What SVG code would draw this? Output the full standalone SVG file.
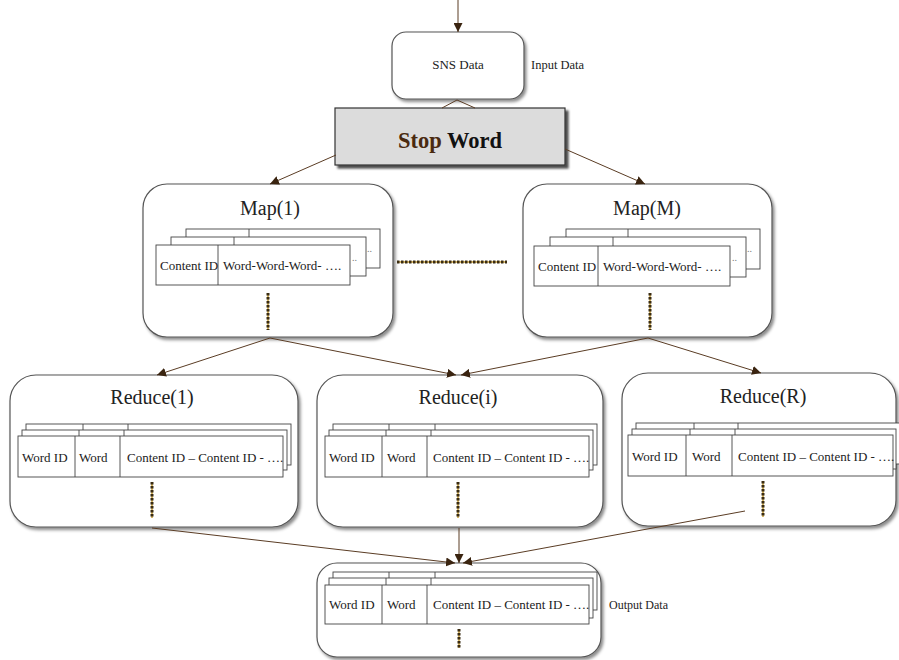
<svg xmlns="http://www.w3.org/2000/svg" width="899" height="660" viewBox="0 0 899 660">
<defs>
<filter id="sh" x="-10%" y="-10%" width="125%" height="125%">
<feDropShadow dx="2" dy="2.5" stdDeviation="1.6" flood-color="#000" flood-opacity="0.45"/>
</filter>
<filter id="sh2" x="-10%" y="-10%" width="125%" height="130%">
<feDropShadow dx="3" dy="3" stdDeviation="1" flood-color="#000" flood-opacity="0.7"/>
</filter>
<marker id="ah" viewBox="0 0 10 10" refX="10" refY="5" markerWidth="9" markerHeight="9" markerUnits="userSpaceOnUse" orient="auto">
<path d="M0,0 L10,5 L0,10 z" fill="#3a2410"/>
</marker>
</defs>
<style>
.box{fill:#fff;stroke:#555;stroke-width:1.2;filter:url(#sh)}
.rec{fill:#fff;stroke:#444;stroke-width:0.9}
.div{stroke:#444;stroke-width:0.9}
.t{font-family:"Liberation Serif","Times New Roman",serif;fill:#222}
.title{font-size:20px}
.small{font-size:13px}
.dots{font-size:10px;fill:#777}
.conn{stroke:#5a3c24;stroke-width:1;fill:none}
.dotline{stroke:#3a2c12;stroke-width:3;stroke-dasharray:2.5 1.5;fill:none}
.dotbg{stroke:#d8b868;stroke-width:2;fill:none}
</style>

<g id="sns">
<rect class="box" x="392" y="32" width="132" height="67" rx="14"/>
<text class="t" x="458" y="69" font-size="13" text-anchor="middle">SNS Data</text>
</g>
<g id="input-label">
<text class="t" x="531" y="69" font-size="12.5">Input Data</text>
</g>

<g id="stopword">
<rect x="335" y="108" width="230" height="57" fill="#dcdcdc" stroke="#333" stroke-width="1.2" filter="url(#sh2)"/>
<text class="t" x="450" y="148" font-size="22.5" font-weight="bold" text-anchor="middle"><tspan fill="#4a2a10">Stop</tspan> <tspan fill="#111">Word</tspan></text>
</g>

<g id="map1">
<rect class="box" x="143" y="184" width="250" height="153" rx="24"/>
<text class="t title" x="270" y="215" text-anchor="middle">Map(1)</text>
<rect class="rec" x="186" y="229" width="194" height="39"/>
<line class="div" x1="249" y1="229" x2="249" y2="268"/>
<text class="t dots" x="367" y="252">..</text>
<rect class="rec" x="171" y="237" width="195" height="39"/>
<line class="div" x1="234" y1="237" x2="234" y2="276"/>
<text class="t dots" x="352" y="261">..</text>
<rect class="rec" x="156" y="245" width="194" height="40"/>
<line class="div" x1="218" y1="245" x2="218" y2="285"/>
<text class="t small" x="160" y="270">Content ID</text>
<text class="t small" x="223" y="270">Word-Word-Word- ….</text>
<line class="dotbg" x1="268" y1="293" x2="268" y2="330"/>
<line class="dotline" x1="268" y1="293" x2="268" y2="330"/>
</g>

<g id="ellipsis-maps">
<line class="dotbg" x1="397" y1="262" x2="507" y2="262"/>
<line class="dotline" x1="397" y1="262" x2="507" y2="262"/>
</g>

<g id="mapM">
<rect class="box" x="523" y="184" width="249" height="153" rx="24"/>
<text class="t title" x="647" y="215" text-anchor="middle">Map(M)</text>
<rect class="rec" x="566" y="229" width="194" height="40"/>
<line class="div" x1="628" y1="229" x2="628" y2="269"/>
<text class="t dots" x="747" y="252">..</text>
<rect class="rec" x="550" y="237" width="196" height="40"/>
<line class="div" x1="613" y1="237" x2="613" y2="277"/>
<text class="t dots" x="732" y="261">..</text>
<rect class="rec" x="534" y="246" width="196" height="40"/>
<line class="div" x1="598" y1="246" x2="598" y2="286"/>
<text class="t small" x="538" y="271">Content ID</text>
<text class="t small" x="603" y="271">Word-Word-Word- ….</text>
<line class="dotbg" x1="650" y1="293" x2="650" y2="330"/>
<line class="dotline" x1="650" y1="293" x2="650" y2="330"/>
</g>

<g id="reduce1">
<rect class="box" x="10" y="375" width="288" height="152" rx="26"/>
<text class="t title" x="152" y="404" text-anchor="middle">Reduce(1)</text>
<rect class="rec" x="26" y="424" width="265" height="41"/>
<line class="div" x1="83" y1="424" x2="83" y2="465"/>
<line class="div" x1="128" y1="424" x2="128" y2="465"/>
<rect class="rec" x="22" y="430" width="265" height="40"/>
<line class="div" x1="79" y1="430" x2="79" y2="470"/>
<line class="div" x1="124" y1="430" x2="124" y2="470"/>
<rect class="rec" x="18" y="436" width="265" height="41"/>
<line class="div" x1="75" y1="436" x2="75" y2="477"/>
<line class="div" x1="120" y1="436" x2="120" y2="477"/>
<text class="t small" x="22" y="462">Word ID</text>
<text class="t small" x="79" y="462">Word</text>
<text class="t small" x="127" y="462">Content ID – Content ID - ….</text>
<line class="dotbg" x1="152" y1="482" x2="152" y2="518"/>
<line class="dotline" x1="152" y1="482" x2="152" y2="518"/>
</g>

<g id="reducei">
<rect class="box" x="317" y="375" width="286" height="152" rx="26"/>
<text class="t title" x="458" y="404" text-anchor="middle">Reduce(i)</text>
<rect class="rec" x="333" y="424" width="264" height="41"/>
<line class="div" x1="389" y1="424" x2="389" y2="465"/>
<line class="div" x1="435" y1="424" x2="435" y2="465"/>
<rect class="rec" x="329" y="430" width="264" height="40"/>
<line class="div" x1="386" y1="430" x2="386" y2="470"/>
<line class="div" x1="431" y1="430" x2="431" y2="470"/>
<rect class="rec" x="325" y="436" width="264" height="41"/>
<line class="div" x1="382" y1="436" x2="382" y2="477"/>
<line class="div" x1="427" y1="436" x2="427" y2="477"/>
<text class="t small" x="329" y="462">Word ID</text>
<text class="t small" x="387" y="462">Word</text>
<text class="t small" x="433" y="462">Content ID – Content ID - ….</text>
<line class="dotbg" x1="458" y1="482" x2="458" y2="518"/>
<line class="dotline" x1="458" y1="482" x2="458" y2="518"/>
</g>

<g id="reduceR">
<rect class="box" x="622" y="373" width="274" height="153" rx="26"/>
<text class="t title" x="763" y="403" text-anchor="middle">Reduce(R)</text>
<rect class="rec" x="636" y="423" width="264" height="41"/>
<line class="div" x1="694" y1="423" x2="694" y2="464"/>
<line class="div" x1="738" y1="423" x2="738" y2="464"/>
<rect class="rec" x="632" y="429" width="264" height="40"/>
<line class="div" x1="690" y1="429" x2="690" y2="469"/>
<line class="div" x1="735" y1="429" x2="735" y2="469"/>
<rect class="rec" x="628" y="435" width="265" height="41"/>
<line class="div" x1="686" y1="435" x2="686" y2="476"/>
<line class="div" x1="732" y1="435" x2="732" y2="476"/>
<text class="t small" x="632" y="461">Word ID</text>
<text class="t small" x="692" y="461">Word</text>
<text class="t small" x="738" y="461">Content ID – Content ID - ….</text>
<line class="dotbg" x1="763" y1="481" x2="763" y2="517"/>
<line class="dotline" x1="763" y1="481" x2="763" y2="517"/>
</g>

<g id="output">
<rect class="box" x="317" y="563" width="284" height="94" rx="20"/>
<rect class="rec" x="333" y="572" width="264" height="38"/>
<line class="div" x1="389" y1="572" x2="389" y2="610"/>
<line class="div" x1="435" y1="572" x2="435" y2="610"/>
<rect class="rec" x="329" y="578" width="264" height="40"/>
<line class="div" x1="386" y1="578" x2="386" y2="618"/>
<line class="div" x1="431" y1="578" x2="431" y2="618"/>
<rect class="rec" x="325" y="585" width="264" height="39"/>
<line class="div" x1="382" y1="585" x2="382" y2="624"/>
<line class="div" x1="427" y1="585" x2="427" y2="624"/>
<text class="t small" x="329" y="609">Word ID</text>
<text class="t small" x="387" y="609">Word</text>
<text class="t small" x="433" y="609">Content ID – Content ID - ….</text>
<line class="dotbg" x1="459" y1="629" x2="459" y2="648"/>
<line class="dotline" x1="459" y1="629" x2="459" y2="648"/>
</g>
<g id="output-label">
<text class="t" x="609" y="609" font-size="12">Output Data</text>
</g>

<g id="connectors">
<line class="conn" x1="458" y1="0" x2="458" y2="32" marker-end="url(#ah)"/>
<polyline class="conn" points="442,108 457,100 475,108"/>
<line class="conn" x1="336" y1="155" x2="270" y2="184" marker-end="url(#ah)"/>
<line class="conn" x1="565" y1="149" x2="645" y2="184" marker-end="url(#ah)"/>
<line class="conn" x1="270" y1="338" x2="157" y2="375" marker-end="url(#ah)"/>
<line class="conn" x1="270" y1="338" x2="456" y2="375" marker-end="url(#ah)"/>
<line class="conn" x1="648" y1="338" x2="461" y2="375" marker-end="url(#ah)"/>
<line class="conn" x1="648" y1="338" x2="761" y2="373" marker-end="url(#ah)"/>
<line class="conn" x1="152" y1="528" x2="455" y2="563" marker-end="url(#ah)"/>
<line class="conn" x1="459" y1="528" x2="459" y2="563" marker-end="url(#ah)"/>
<line class="conn" x1="745" y1="511" x2="463" y2="563" marker-end="url(#ah)"/>
</g>
</svg>
